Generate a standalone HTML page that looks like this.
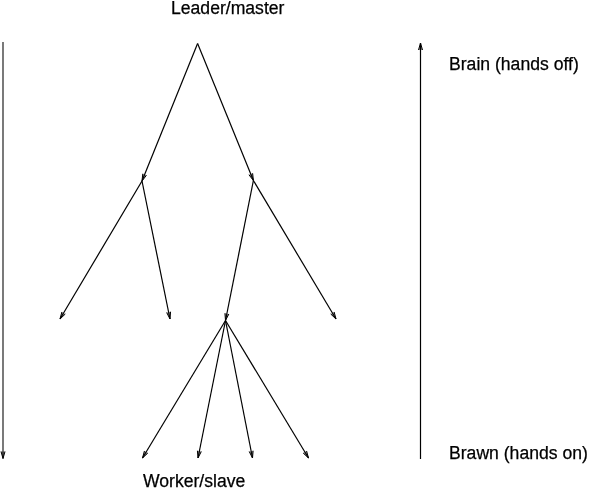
<!DOCTYPE html>
<html><head><meta charset="utf-8"><style>
html,body{margin:0;padding:0;background:#fff;}
body{width:600px;height:488px;position:relative;overflow:hidden;}
svg{position:absolute;left:0;top:0;}
.t{position:absolute;font-family:"Liberation Sans",sans-serif;font-size:17.6px;-webkit-text-stroke:0.25px #000;color:#000;white-space:nowrap;line-height:1;will-change:transform;}
</style></head><body>
<svg width="600" height="488" viewBox="0 0 600 488" stroke="#000" stroke-width="1.2" fill="#000">
<polygon fill="#000" fill-opacity="0.45" stroke="none" points="142.77,173.76 142.00,181.00 146.48,175.26"/><polyline fill="none" stroke-width="1" stroke-linejoin="miter" points="142.77,173.76 142.00,181.00 146.48,175.26"/>
<line x1="197.6" y1="43.5" x2="142" y2="181"/>
<polygon fill="#000" fill-opacity="0.45" stroke="none" points="248.91,174.77 253.40,180.50 252.61,173.26"/><polyline fill="none" stroke-width="1" stroke-linejoin="miter" points="248.91,174.77 253.40,180.50 252.61,173.26"/>
<line x1="197.6" y1="43.5" x2="253.4" y2="180.5"/>
<polygon fill="#000" fill-opacity="0.45" stroke="none" points="61.86,311.96 60.00,319.00 65.30,314.00"/><polyline fill="none" stroke-width="1" stroke-linejoin="miter" points="61.86,311.96 60.00,319.00 65.30,314.00"/>
<line x1="142" y1="181" x2="60" y2="319"/>
<polygon fill="#000" fill-opacity="0.45" stroke="none" points="166.65,312.54 170.00,319.00 170.57,311.74"/><polyline fill="none" stroke-width="1" stroke-linejoin="miter" points="166.65,312.54 170.00,319.00 170.57,311.74"/>
<line x1="142" y1="181" x2="170" y2="319"/>
<polygon fill="#000" fill-opacity="0.45" stroke="none" points="224.91,313.24 225.50,320.50 228.83,314.03"/><polyline fill="none" stroke-width="1" stroke-linejoin="miter" points="224.91,313.24 225.50,320.50 228.83,314.03"/>
<line x1="253.4" y1="180.5" x2="225.5" y2="320.5"/>
<polygon fill="#000" fill-opacity="0.45" stroke="none" points="330.70,314.01 336.00,319.00 334.13,311.96"/><polyline fill="none" stroke-width="1" stroke-linejoin="miter" points="330.70,314.01 336.00,319.00 334.13,311.96"/>
<line x1="253.4" y1="180.5" x2="336" y2="319"/>
<polygon fill="#000" fill-opacity="0.45" stroke="none" points="144.41,450.97 142.50,458.00 147.83,453.04"/><polyline fill="none" stroke-width="1" stroke-linejoin="miter" points="144.41,450.97 142.50,458.00 147.83,453.04"/>
<line x1="225.5" y1="320.5" x2="142.5" y2="458"/>
<polygon fill="#000" fill-opacity="0.45" stroke="none" points="197.41,450.74 198.00,458.00 201.33,451.53"/><polyline fill="none" stroke-width="1" stroke-linejoin="miter" points="197.41,450.74 198.00,458.00 201.33,451.53"/>
<line x1="225.5" y1="320.5" x2="198" y2="458"/>
<polygon fill="#000" fill-opacity="0.45" stroke="none" points="249.19,451.52 252.50,458.00 253.11,450.75"/><polyline fill="none" stroke-width="1" stroke-linejoin="miter" points="249.19,451.52 252.50,458.00 253.11,450.75"/>
<line x1="225.5" y1="320.5" x2="252.5" y2="458"/>
<polygon fill="#000" fill-opacity="0.45" stroke="none" points="303.17,453.04 308.50,458.00 306.59,450.97"/><polyline fill="none" stroke-width="1" stroke-linejoin="miter" points="303.17,453.04 308.50,458.00 306.59,450.97"/>
<line x1="225.5" y1="320.5" x2="308.5" y2="458"/>
<polygon fill="#000" fill-opacity="0.45" stroke="none" points="1.00,451.50 3.00,458.50 5.00,451.50"/><polyline fill="none" stroke-width="1" stroke-linejoin="miter" points="1.00,451.50 3.00,458.50 5.00,451.50"/>
<line x1="3" y1="42" x2="3" y2="458.5" stroke-width="1.05"/>
<polygon fill="#000" fill-opacity="0.45" stroke="none" points="422.50,50.00 420.50,43.00 418.50,50.00"/><polyline fill="none" stroke-width="1" stroke-linejoin="miter" points="422.50,50.00 420.50,43.00 418.50,50.00"/>
<line x1="420.5" y1="459" x2="420.5" y2="43"/>
</svg>
<div class="t" style="left:171px;top:0px">Leader/master</div>
<div class="t" style="left:449px;top:56px">Brain (hands off)</div>
<div class="t" style="left:449px;top:445px">Brawn (hands on)</div>
<div class="t" style="left:143px;top:473px">Worker/slave</div>
</body></html>
